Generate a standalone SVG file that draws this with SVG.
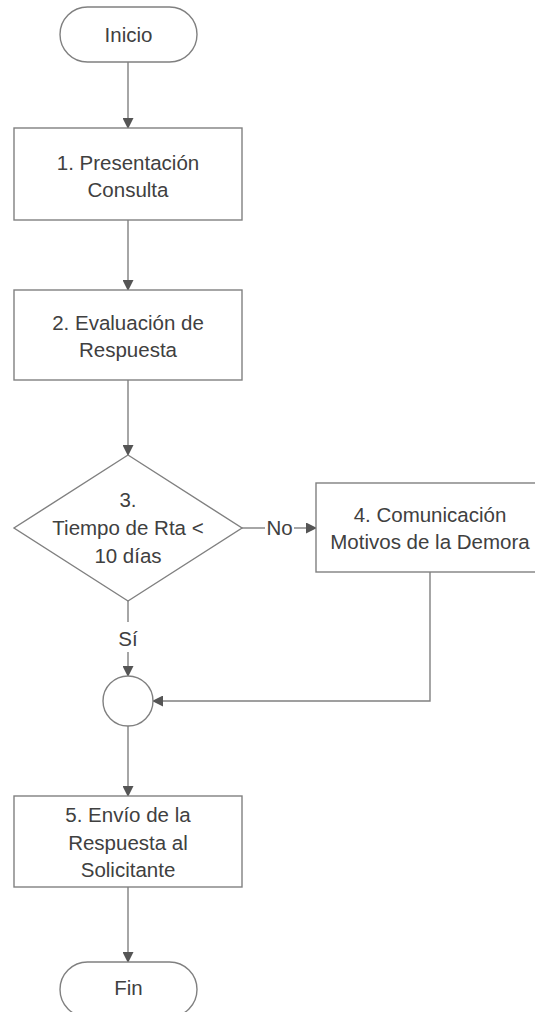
<svg xmlns="http://www.w3.org/2000/svg" width="535" height="1012" viewBox="0 0 535 1012">
<defs>
<marker id="arr" markerWidth="11" markerHeight="11" refX="10" refY="5.5" orient="auto" markerUnits="userSpaceOnUse">
<path d="M0,0 L11,5.5 L0,11 Z" fill="#555"/>
</marker>
<style>
.shape{fill:#fff;stroke:#808080;stroke-width:1.4}
.t{font-family:"Liberation Sans",Arial,sans-serif;font-size:20.5px;fill:#404040;text-anchor:middle}
.c{fill:none;stroke:#808080;stroke-width:1.4}
</style>
</defs>
<rect width="535" height="1012" fill="#fff"/>
<g id="connectors">
<line class="c" x1="128" y1="62" x2="128" y2="128" marker-end="url(#arr)"/>
<line class="c" x1="128" y1="220" x2="128" y2="290" marker-end="url(#arr)"/>
<line class="c" x1="128" y1="380" x2="128" y2="455" marker-end="url(#arr)"/>
<line class="c" x1="242" y1="528" x2="265" y2="528"/>
<line class="c" x1="294" y1="528" x2="316" y2="528" marker-end="url(#arr)"/>
<text class="t" x="279.5" y="535">No</text>
<line class="c" x1="128" y1="601" x2="128" y2="622"/>
<line class="c" x1="128" y1="652" x2="128" y2="676" marker-end="url(#arr)"/>
<text class="t" x="128" y="646">Sí</text>
<polyline class="c" points="430,572 430,701 153,701" marker-end="url(#arr)"/>
<line class="c" x1="128" y1="726" x2="128" y2="796" marker-end="url(#arr)"/>
<line class="c" x1="128" y1="887" x2="128" y2="962" marker-end="url(#arr)"/>
</g>
<g id="inicio">
<rect class="shape" x="60" y="7" width="137" height="55" rx="27.5"/>
<text class="t" x="128.5" y="42">Inicio</text>
</g>
<g id="n1">
<rect class="shape" x="14" y="128" width="228" height="92"/>
<text class="t" x="128" y="170">1. Presentación</text>
<text class="t" x="128" y="197">Consulta</text>
</g>
<g id="n2">
<rect class="shape" x="14" y="290" width="228" height="90"/>
<text class="t" x="128" y="330">2. Evaluación de</text>
<text class="t" x="128" y="357">Respuesta</text>
</g>
<g id="n3">
<polygon class="shape" points="128,455 242,528 128,601 14,528"/>
<text class="t" x="128" y="507">3.</text>
<text class="t" x="128" y="535">Tiempo de Rta &lt;</text>
<text class="t" x="128" y="563">10 días</text>
</g>
<g id="n4">
<rect class="shape" x="316" y="483" width="228" height="89"/>
<text class="t" x="430" y="522">4. Comunicación</text>
<text class="t" x="430" y="549">Motivos de la Demora</text>
</g>
<g id="merge">
<circle class="shape" cx="128" cy="701" r="25"/>
</g>
<g id="n5">
<rect class="shape" x="14" y="796" width="228" height="91"/>
<text class="t" x="128" y="822">5. Envío de la</text>
<text class="t" x="128" y="850">Respuesta al</text>
<text class="t" x="128" y="877">Solicitante</text>
</g>
<g id="fin">
<rect class="shape" x="60" y="962" width="137" height="55" rx="27.5"/>
<text class="t" x="128.5" y="995">Fin</text>
</g>
</svg>
